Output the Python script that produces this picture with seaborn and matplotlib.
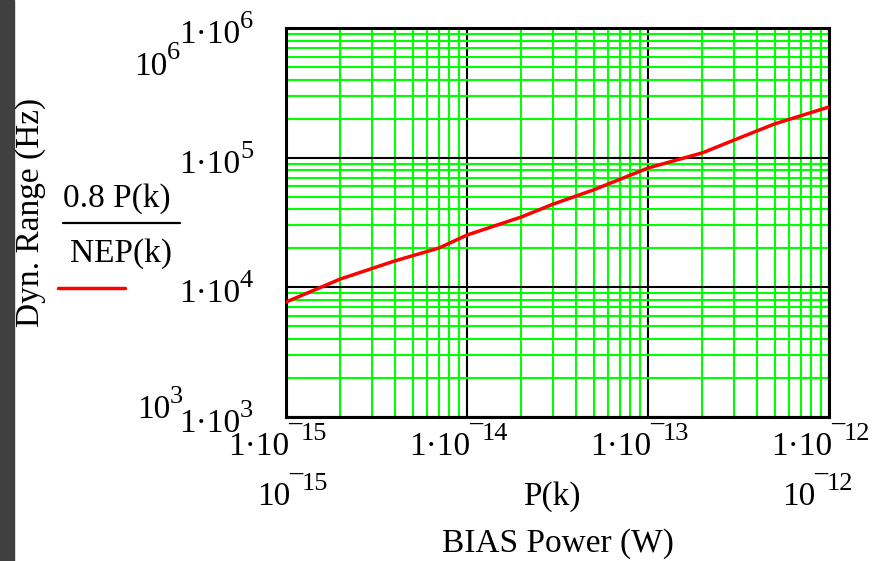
import numpy as np
import pandas as pd
import matplotlib
matplotlib.use("Agg")
import matplotlib.pyplot as plt
import seaborn as sns
from matplotlib.ticker import FixedLocator, LogLocator, NullFormatter
from matplotlib.transforms import offset_copy, blended_transform_factory, Affine2D
from matplotlib.patches import Rectangle
from matplotlib.lines import Line2D

# ---- data ----
bias_power_w = [1e-15, 2e-15, 4e-15, 7e-15, 1e-14, 2e-14, 3e-14, 5e-14,
                1e-13, 2e-13, 3e-13, 5e-13, 1e-12]
dyn_range_hz = [7.7e3, 1.16e4, 1.60e4, 2.01e4, 2.53e4, 3.49e4, 4.39e4, 5.64e4,
                8.32e4, 1.09e5, 1.37e5, 1.82e5, 2.46e5]
x_decades = [1e-15, 1e-14, 1e-13, 1e-12]
y_decades = [1e3, 1e4, 1e5, 1e6]
x_tick_exps = ["-15", "-14", "-13", "-12"]
y_tick_exps = ["3", "4", "5", "6"]
tick_base = "1\u00b710"

sns.set_theme(style="white")
plt.rcParams["font.family"] = ["Liberation Serif", "DejaVu Serif"]
FS = 24
SFS = 19

W, H = 887, 561
fig = plt.figure(figsize=(W / 100, H / 100), dpi=100)
fig.patch.set_facecolor("white")
fig.patches.append(Rectangle((0, 0), 14 / W, 1, transform=fig.transFigure,
                             color="#404040", zorder=0))

ax = fig.add_axes([286 / W, 1 - 417 / H, 543 / W, 389 / H])
df = pd.DataFrame({"P": bias_power_w, "DR": dyn_range_hz})
sns.lineplot(data=df, x="P", y="DR", ax=ax, color="#ff0000", lw=2.5, zorder=5)
ax.set_xscale("log")
ax.set_yscale("log")
ax.set_xlim(x_decades[0], x_decades[-1])
ax.set_ylim(y_decades[0], y_decades[-1])
ax.xaxis.set_major_locator(FixedLocator(x_decades))
ax.yaxis.set_major_locator(FixedLocator(y_decades))
ax.xaxis.set_minor_locator(LogLocator(base=10, subs=np.arange(2, 10), numticks=100))
ax.yaxis.set_minor_locator(LogLocator(base=10, subs=np.arange(2, 10), numticks=100))
ax.xaxis.set_minor_formatter(NullFormatter())
ax.yaxis.set_minor_formatter(NullFormatter())
ax.grid(which="minor", color="#00ff00", lw=1.5)
ax.grid(which="major", color="black", lw=1.5)
ax.set_axisbelow(True)
ax.tick_params(which="both", length=0, labelbottom=False, labelleft=False)
ax.set_xlabel("")
ax.set_ylabel("")
for s in ax.spines.values():
    s.set_color("black")
    s.set_linewidth(2.2)


def sup_text(trans, dx, dy, exp):
    """Draw a Mathcad-style exponent; a minus sign is drawn as a high bar."""
    if exp.startswith("-"):
        fig.text(0, 0, "\u2013", fontsize=SFS, fontweight="bold", ha="left",
                 va="baseline", color="black",
                 transform=offset_copy(trans, fig=fig, x=dx - 1, y=dy + 10, units="dots"))
        fig.text(0, 0, exp[1:], fontsize=SFS, ha="left", va="baseline", color="black",
                 transform=offset_copy(trans, fig=fig, x=dx + 12, y=dy, units="dots"))
    else:
        fig.text(0, 0, exp, fontsize=SFS, ha="left", va="baseline", color="black",
                 transform=offset_copy(trans, fig=fig, x=dx, y=dy, units="dots"))


# ---- tick labels (Mathcad style) ----
for xv, ex in zip(x_decades, x_tick_exps):
    anchor = blended_transform_factory(ax.transData, ax.transAxes)
    ax.text(xv, 0, tick_base, fontsize=FS, ha="right", va="baseline", color="black",
            transform=offset_copy(anchor, fig=fig, x=3, y=-38, units="dots"), clip_on=False)
    pt = ax.transData.transform((xv, y_decades[0]))
    sup_text(Affine2D().translate(pt[0], ax.bbox.y0), 3, -23, ex)
for yv, ex in zip(y_decades, y_tick_exps):
    anchor = blended_transform_factory(ax.transAxes, ax.transData)
    ax.text(0, yv, tick_base, fontsize=FS, ha="right", va="baseline", color="black",
            transform=offset_copy(anchor, fig=fig, x=-46, y=-15, units="dots"), clip_on=False)
    pt = ax.transData.transform((x_decades[0], yv))
    sup_text(Affine2D().translate(ax.bbox.x0, pt[1]), -46, 0, ex)


def ftext(x, y, s, **kw):
    kw.setdefault("fontsize", FS)
    kw.setdefault("va", "baseline")
    kw.setdefault("color", "black")
    fig.text(x / W, 1 - y / H, s, **kw)


def fsup(x, y, exp):
    sup_text(Affine2D().translate(x, H - y), 0, 0, exp)


# outer range labels
ftext(167, 75, "10", ha="right")
fsup(167, 59, y_tick_exps[-1])
ftext(170, 418, "10", ha="right")
fsup(170, 403, y_tick_exps[0])
ftext(290, 505, "10", ha="right")
fsup(290, 490, x_tick_exps[0])
ftext(815, 505, "10", ha="right")
fsup(815, 490, x_tick_exps[-1])
ftext(552, 505, "P(k)", ha="center")
ftext(558, 552, "BIAS Power (W)", ha="center")

# y label and legend
ftext(31, 212, "Dyn. Range (Hz)", ha="center", va="center", rotation=90)
ftext(117, 207, "0.8 P(k)", ha="center")
fig.lines.append(Line2D([63 / W, 180 / W], [1 - 223 / H, 1 - 223 / H],
                        transform=fig.transFigure, color="black", lw=1.6))
ftext(121, 262, "NEP(k)", ha="center")
fig.lines.append(Line2D([58 / W, 125 / W], [1 - 288 / H, 1 - 288 / H],
                        transform=fig.transFigure, color="#ff0000", lw=2.5))

fig.savefig("out.png", dpi=100)
